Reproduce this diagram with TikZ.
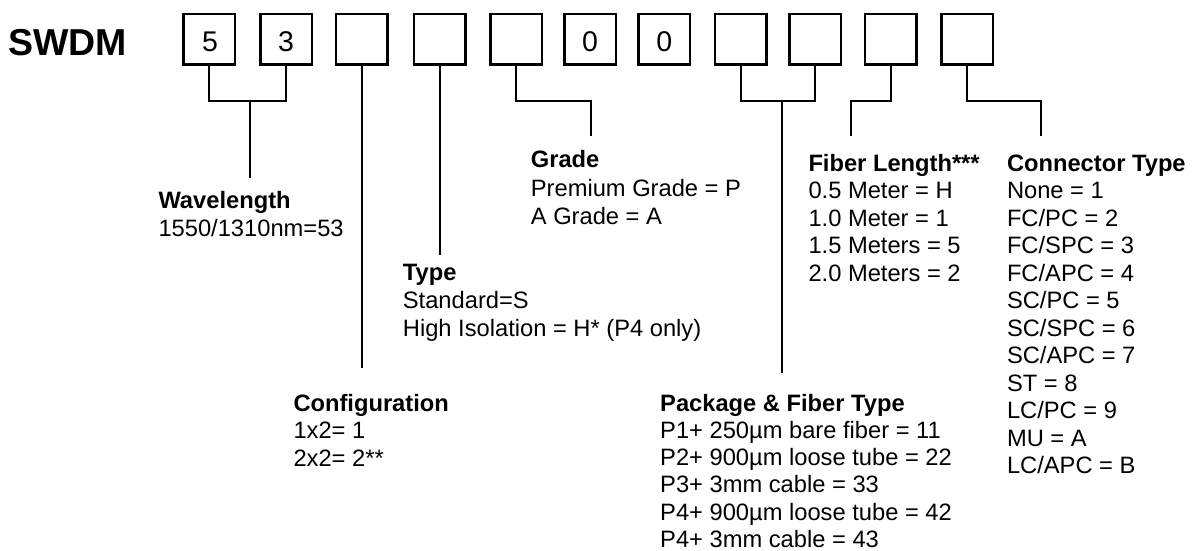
\documentclass[tikz,border=0pt]{standalone}
\usepackage{fontspec}
\setmainfont{Liberation Sans}
\begin{document}
\begin{tikzpicture}[x=1pt,y=-1pt,
  box/.style={draw,line width=2.5pt,minimum width=51.5pt,minimum height=50.5pt,inner sep=0pt},
  conn/.style={line width=2.2pt},
  digit/.style={font=\fontsize{28.5}{30}\selectfont,inner sep=0pt,anchor=base},
  title/.style={font=\fontsize{37.5}{40}\selectfont\bfseries,inner sep=0pt,anchor=base west},
  hd/.style={font=\fontsize{23.7}{28}\selectfont\bfseries,inner sep=0pt,anchor=base west},
  tx/.style={font=\fontsize{23.7}{28}\selectfont,inner sep=0pt,anchor=base west}]
\useasboundingbox (0,0) rectangle (1193,551);

\node[title] (swdm) at (8,56) {SWDM};

% boxes
\node[box] (b1) at (209,39.2) {};
\node[box] (b2) at (286,39.2) {};
\node[box] (b3) at (361.7,39.2) {};
\node[box] (b4) at (439.7,39.2) {};
\node[box] (b5) at (516.2,39.2) {};
\node[box] (b6) at (590,39.2) {};
\node[box] (b7) at (664.3,39.2) {};
\node[box] (b8) at (740.7,39.2) {};
\node[box] (b9) at (815,39.2) {};
\node[box] (b10) at (890.8,39.2) {};
\node[box] (b11) at (967,39.2) {};

\node[digit] (d1) at (210,51.7) {5};
\node[digit] (d2) at (286,51.7) {3};
\node[digit] (d6) at (590,51.7) {0};
\node[digit] (d7) at (664.3,51.7) {0};

% junction coordinates
\coordinate (wlj) at (250,101);
\coordinate (wlend) at (250,177.7);
\coordinate (cfend) at (361.7,367.7);
\coordinate (tyend) at (439.7,255);
\coordinate (grc) at (591,101);
\coordinate (grend) at (591,135.7);
\coordinate (pkj) at (781.7,101);
\coordinate (pkend) at (781.7,373.3);
\coordinate (flc) at (851,101);
\coordinate (flend) at (851,135.7);
\coordinate (ctc) at (1041,101);
\coordinate (ctend) at (1041,135.7);

% connectors
\draw[conn] (b1.south) |- (wlj) -| (b2.south);
\draw[conn] (wlj) -- (wlend);
\draw[conn] (b3.south) -- (cfend);
\draw[conn] (b4.south) -- (tyend);
\draw[conn] (b5.south) |- (grc) -- (grend);
\draw[conn] (b8.south) |- (pkj) -| (b9.south);
\draw[conn] (pkj) -- (pkend);
\draw[conn] (b10.south) |- (flc) -- (flend);
\draw[conn] (b11.south) |- (ctc) -- (ctend);

% Wavelength
\node[hd] (wlh) at (158.3,208.3) {Wavelength};
\node[tx] (wl1) at (158.3,236.7) {1550/1310nm=53};

% Configuration
\node[hd] (cfh) at (293.3,411) {Configuration};
\node[tx] (cf1) at (293.3,438.3) {1x2= 1};
\node[tx] (cf2) at (293.3,466) {2x2= 2**};

% Type
\node[hd] (tyh) at (402.7,280.7) {Type};
\node[tx] (ty1) at (402.7,308.3) {Standard=S};
\node[tx] (ty2) at (402.7,336.7) {High Isolation = H* (P4 only)};

% Grade
\node[hd] (grh) at (530.7,167.7) {Grade};
\node[tx] (gr1) at (530.7,196) {Premium Grade = P};
\node[tx] (gr2) at (530.7,224) {A Grade = A};

% Package & Fiber Type
\node[hd] (pkh) at (660,411) {Package \& Fiber Type};
\foreach \t [count=\i] in {P1+ 250µm bare fiber = 11,P2+ 900µm loose tube = 22,P3+ 3mm cable = 33,P4+ 900µm loose tube = 42,P4+ 3mm cable = 43}
  \node[tx] (pk\i) at (660,411+\i*27.3) {\t};

% Fiber Length
\node[hd] (flh) at (808.3,171) {Fiber Length***};
\foreach \t [count=\i] in {0.5 Meter = H,1.0 Meter = 1,1.5 Meters = 5,2.0 Meters = 2}
  \node[tx] (fl\i) at (808.3,171+\i*27.5) {\t};

% Connector Type
\node[hd] (cth) at (1006.8,171) {Connector Type};
\foreach \t [count=\i] in {None = 1,FC/PC = 2,FC/SPC = 3,FC/APC = 4,SC/PC = 5,SC/SPC = 6,SC/APC = 7,ST = 8,LC/PC = 9,MU = A,LC/APC = B}
  \node[tx] (ct\i) at (1006.8,171+\i*27.5) {\t};
\end{tikzpicture}
\end{document}
